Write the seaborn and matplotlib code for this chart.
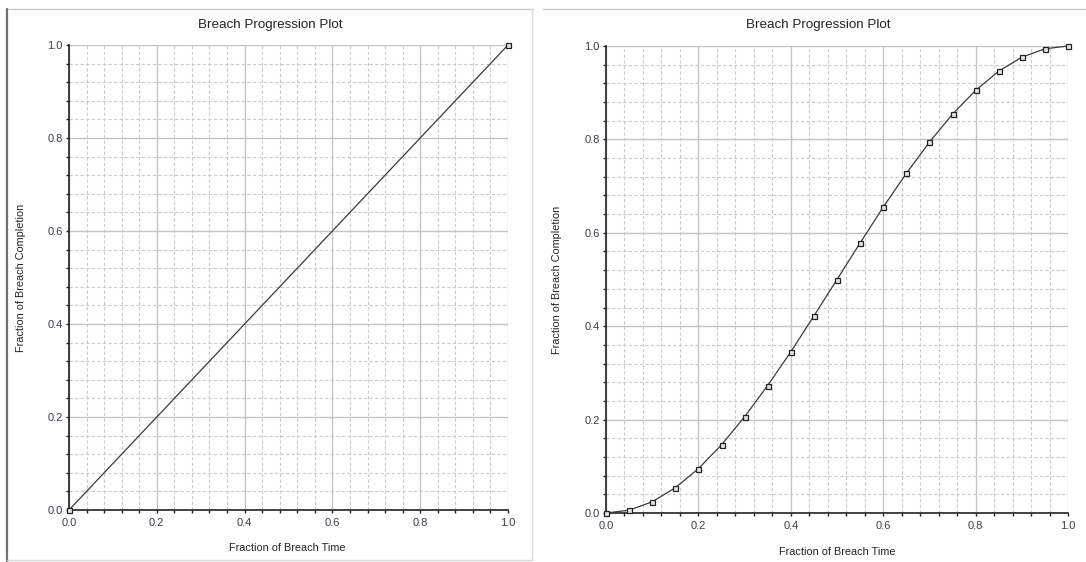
"""Breach progression plots: linear vs sine-wave breach."""

import matplotlib
matplotlib.use("Agg")
import matplotlib.pyplot as plt
from matplotlib.ticker import MultipleLocator
from matplotlib.lines import Line2D
import pandas as pd
import seaborn as sns

# %% Data ----
linear_time = [0.0, 1.0]
linear_completion = [0.0, 1.0]

sine_time = [0.0, 0.05, 0.10, 0.15, 0.20, 0.25, 0.30, 0.35, 0.40, 0.45, 0.50,
             0.55, 0.60, 0.65, 0.70, 0.75, 0.80, 0.85, 0.90, 0.95, 1.0]
sine_completion = [0.0, 0.006, 0.024, 0.054, 0.095, 0.146, 0.206, 0.273, 0.345, 0.422, 0.500,
                   0.578, 0.655, 0.727, 0.794, 0.854, 0.905, 0.946, 0.976, 0.994, 1.0]

title = 'Breach Progression Plot'
x_label = 'Fraction of Breach Time'
y_label = 'Fraction of Breach Completion'

# %% Style ----
sns.set_style('white')
plt.rcParams['font.family'] = ['Liberation Sans', 'DejaVu Sans']

fig = plt.figure(figsize=(10.86, 5.62), dpi=100)

# panel frames (two screenshots side by side)
fig.add_artist(Line2D([7/1086, 533/1086], [1 - 9/562, 1 - 9/562], color='#c8c8c8', lw=1))
fig.add_artist(Line2D([7/1086, 7/1086], [1 - 9/562, 0], color='#707070', lw=1.6))
fig.add_artist(Line2D([532/1086, 532/1086], [1 - 9/562, 1 - 560/562], color='#d8d8d8', lw=1))
fig.add_artist(Line2D([7/1086, 532/1086], [1 - 560/562, 1 - 560/562], color='#d8d8d8', lw=1))
fig.add_artist(Line2D([543/1086, 1.0], [1 - 9/562, 1 - 9/562], color='#c8c8c8', lw=1))

ax_left = fig.add_axes([69/1086, 1 - 510/562, 439/1086, 465/562])
ax_right = fig.add_axes([606/1086, 1 - 513/562, 462/1086, 467/562])

panels = [
    (ax_left, pd.DataFrame({'t': linear_time, 'c': linear_completion}), 270/1086, 21, 287/1086, 548),
    (ax_right, pd.DataFrame({'t': sine_time, 'c': sine_completion}), 818/1086, 557, 837/1086, 552),
]

for ax, df, title_x, ylab_x, xlab_x, xlab_y in panels:
    sns.lineplot(data=df, x='t', y='c', ax=ax, color='#3a3a3a', lw=0.9,
                 marker='s', markersize=3.6, markerfacecolor='#e4e4e4',
                 markeredgecolor='#222222', markeredgewidth=0.9, clip_on=False, zorder=5)
    ax.set_xlim(0, 1)
    ax.set_ylim(0, 1)
    ax.xaxis.set_major_locator(MultipleLocator(0.2))
    ax.yaxis.set_major_locator(MultipleLocator(0.2))
    ax.xaxis.set_minor_locator(MultipleLocator(0.04))
    ax.yaxis.set_minor_locator(MultipleLocator(0.04))
    ax.grid(which='major', color='#c4c4c4', lw=1, ls='-')
    ax.grid(which='minor', color='#cbcbcb', lw=0.8, ls=(0, (3, 2)))
    ax.set_axisbelow(True)
    for side in ['top', 'right']:
        ax.spines[side].set_visible(False)
    for side in ['left', 'bottom']:
        ax.spines[side].set_color('#222222')
        ax.spines[side].set_linewidth(1.2)
    ax.tick_params(which='both', direction='out', length=2.5, width=1,
                   color='#222222', labelsize=8, labelcolor='#3c3c50', pad=2,
                   left=True, bottom=True)
    ax.tick_params(axis='x', pad=3)
    ax.set_xlabel('')
    ax.set_ylabel('')
    fig.text(title_x, 1 - 25/562, title, ha='center', va='center', fontsize=9.6, color='#222222')
    fig.text(xlab_x, 1 - xlab_y/562, x_label, ha='center', va='center', fontsize=7.8, color='#222222')
    fig.text(ylab_x/1086, (ax.get_position().y0 + ax.get_position().y1)/2, y_label,
             rotation=90, ha='center', va='center', fontsize=7.8, color='#222222')

fig.savefig('out.png', dpi=100)
